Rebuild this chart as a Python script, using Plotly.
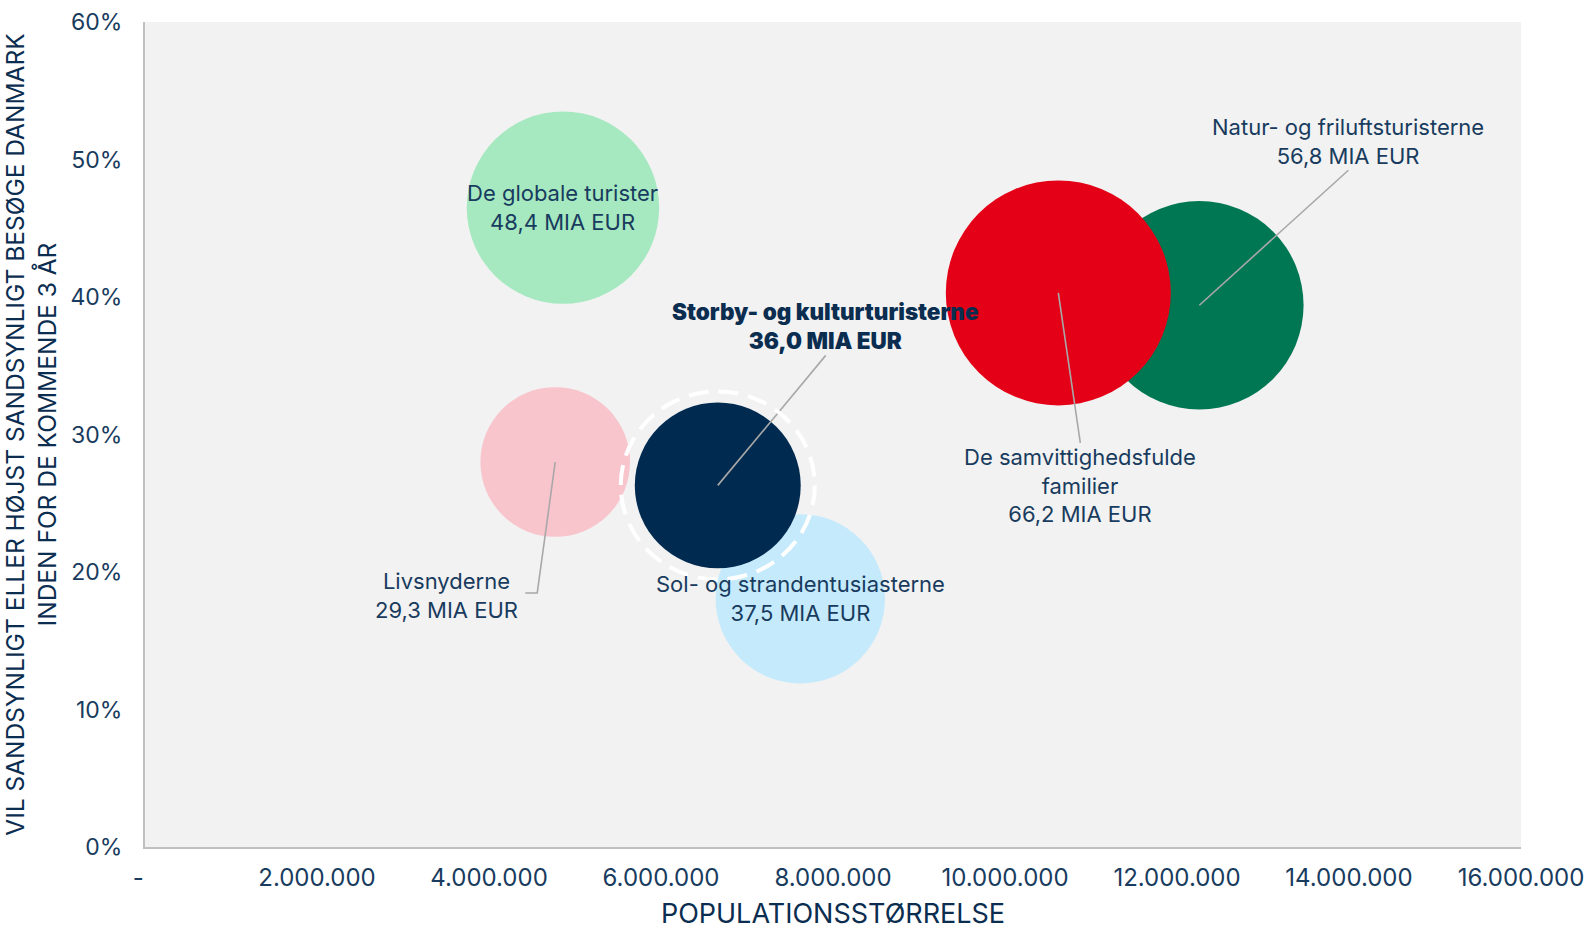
import plotly.graph_objects as go

# Segment data (draw order: later entries sit on top of earlier ones)
segments = [
    "De globale turister",
    "Livsnyderne",
    "Sol- og strandentusiasterne",
    "Storby- og kulturturisterne",
    "Natur- og friluftsturisterne",
    "De samvittighedsfulde familier",
]
label_names = [
    "De globale turister",
    "Livsnyderne",
    "Sol- og strandentusiasterne",
    "Storby- og kulturturisterne",
    "Natur- og friluftsturisterne",
    "De samvittighedsfulde<br>familier",
]
population = [4_860_000, 4_770_000, 7_620_000, 6_660_000, 12_260_000, 10_620_000]
visit_share = [46.5, 28.0, 18.05, 26.3, 39.4, 40.3]
spend_bn_eur = [48.4, 29.3, 37.5, 36.0, 56.8, 66.2]
colors = ["#a6e9c0", "#f9c5cd", "#c5eafb", "#002a50", "#007753", "#e40016"]

x_tick_vals = [0, 2_000_000, 4_000_000, 6_000_000, 8_000_000, 10_000_000, 12_000_000, 14_000_000, 16_000_000]
x_tick_text = ["-\u00a0\u00a0", "2.000.000", "4.000.000", "6.000.000", "8.000.000", "10.000.000", "12.000.000", "14.000.000", "16.000.000"]
y_tick_vals = [0, 10, 20, 30, 40, 50, 60]
y_tick_text = ["0%", "10%", "20%", "30%", "40%", "50%", "60%"]

highlight = "Storby- og kulturturisterne"

FONT = "Inter"
TEXT = "#183b5e"
TITLE = "#0b2d50"
LEADER = "#a8a8a8"

# Label offsets (px) relative to bubble centre, plus optional leader path
label_style = {
    "De globale turister": dict(dx=0, dy=0, path=None),
    "Livsnyderne": dict(dx=-109, dy=-133, path="M0,0 L-18,-131 L-30,-131"),
    "Sol- og strandentusiasterne": dict(dx=0, dy=0, path=None),
    "Storby- og kulturturisterne": dict(dx=108, dy=159, path="M0,0 L108,130"),
    "Natur- og friluftsturisterne": dict(dx=149, dy=164, path="M0,0 L149,135"),
    "De samvittighedsfulde familier": dict(dx=22, dy=-193, path="M0,0 L22,-150"),
}

max_diameter = 225

fig = go.Figure(
    go.Scatter(
        x=population,
        y=visit_share,
        mode="markers",
        text=segments,
        marker=dict(
            size=spend_bn_eur,
            sizemode="area",
            sizeref=2.0 * max(spend_bn_eur) / max_diameter ** 2,
            color=colors,
            opacity=1,
            line=dict(width=0),
        ),
        hovertemplate="%{text}<extra></extra>",
        showlegend=False,
    )
)

shapes = []
annotations = []
for name, lab, x, y, v in zip(segments, label_names, population, visit_share, spend_bn_eur):
    st = label_style[name]
    value_txt = f"{v:.1f}".replace(".", ",") + " MIA EUR"
    bold = name == highlight
    txt = f"{lab}<br>{value_txt}"
    if st["path"]:
        shapes.append(dict(
            type="path", xref="x", yref="y",
            xsizemode="pixel", ysizemode="pixel",
            xanchor=x, yanchor=y, path=st["path"],
            line=dict(color=LEADER, width=1.6), layer="above",
        ))
    annotations.append(dict(
        x=x, y=y, xref="x", yref="y", text=txt, showarrow=False,
        xshift=st["dx"], yshift=st["dy"], align="center",
        font=dict(family=FONT, size=22.5 if bold else 22, color=TITLE if bold else TEXT,
                  weight=900 if bold else 400),
    ))
    if bold:
        # dashed white ring around the highlighted segment
        shapes.append(dict(
            type="circle", xref="x", yref="y",
            xsizemode="pixel", ysizemode="pixel",
            xanchor=x, yanchor=y, x0=-97, x1=97, y0=-94, y1=94,
            line=dict(color="white", width=4, dash="20px,10px"), layer="above",
        ))

fig.update_layout(
    width=1590,
    height=930,
    margin=dict(l=145, r=69, t=22, b=83),
    paper_bgcolor="white",
    plot_bgcolor="#f2f2f2",
    font=dict(family=FONT, color=TEXT),
    shapes=shapes,
    annotations=annotations,
    xaxis=dict(
        range=[0, 16_000_000], automargin=False,
        tickmode="array", tickvals=x_tick_vals, ticktext=x_tick_text,
        tickfont=dict(size=24, color=TEXT),
        ticklabelstandoff=8,
        showgrid=False, zeroline=False,
        showline=True, linecolor="#c0c0c0", linewidth=2,
        title=dict(text="POPULATIONSSTØRRELSE", font=dict(size=27, color=TITLE), standoff=19),
    ),
    yaxis=dict(
        range=[0, 60], automargin=False,
        tickmode="array", tickvals=y_tick_vals, ticktext=y_tick_text,
        tickfont=dict(size=23, color=TEXT),
        ticklabelstandoff=16,
        showgrid=False, zeroline=False,
        showline=True, linecolor="#c0c0c0", linewidth=2,
        title=dict(
            text="VIL SANDSYNLIGT ELLER HØJST SANDSYNLIGT BESØGE DANMARK<br>INDEN FOR DE KOMMENDE 3 ÅR",
            font=dict(size=24.5, color=TITLE), standoff=17,
        ),
    ),
)

fig.write_html("out.html")
